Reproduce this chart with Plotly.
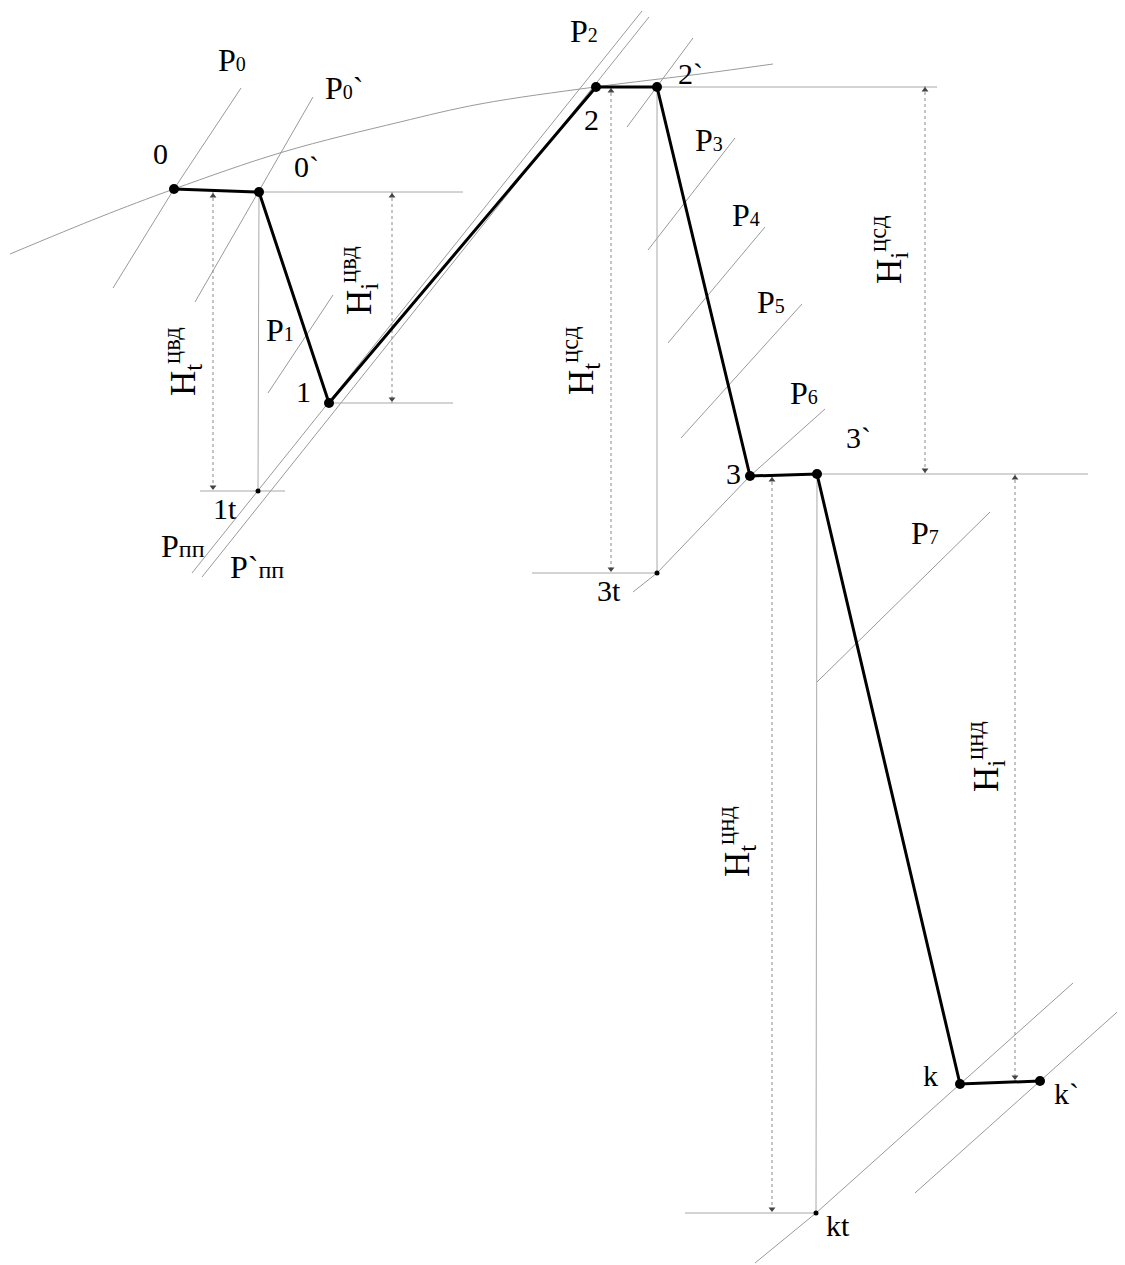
import plotly.graph_objects as go

# ---- data (drawing units: s to the right, h downward) ----
state_names = ["0", "0`", "1", "2", "2`", "3", "3`", "k", "k`"]
state_s = [174, 259, 329, 596, 657, 750, 817, 960, 1040]
state_h = [189, 192, 403, 87, 87, 476, 474, 1084, 1081]

ideal_names = ["1t", "3t", "kt"]
ideal_s = [258, 657, 816]
ideal_h = [491, 573, 1213]
ideal_from = [1, 4, 6]          # vertical isentrope starts at state 0`, 2`, 3`

sat_s = [10, 100, 174, 283, 400, 480, 595, 700, 773]
sat_h = [254, 217, 189, 152, 122, 104, 87, 74, 64]

isobar_names = ["P0", "P0`", "P1", "Pпп", "P`пп", "P2`", "P3", "P4", "P5",
                "P6", "P7", "Pk", "Pk`"]
isobar_s = [[241, 174, 113], [313, 195], [333, 268], [642, 192], [649, 202],
            [693, 627], [735, 648], [765, 668], [802, 681],
            [825, 750, 657, 633], [990, 817], [1073, 960, 816, 755], [1125, 915]]
isobar_h = [[88, 189, 288], [97, 302], [295, 393], [11, 573], [17, 577],
            [38, 127], [138, 250], [227, 343], [304, 438],
            [409, 476, 573, 592], [512, 682], [983, 1084, 1213, 1263], [1005, 1193]]

dim_names = ["Ht_cvd", "Hi_cvd", "Ht_csd", "Hi_csd", "Ht_cnd", "Hi_cnd"]
dim_s = [213, 392, 611, 925, 772, 1015]
dim_top = [192, 192, 87, 86, 476, 474]
dim_bot = [491, 403, 573, 474, 1213, 1081]

ext_h = [192, 403, 491, 87, 573, 474, 1213]
ext_s0 = [258, 329, 200, 657, 532, 817, 685]
ext_s1 = [463, 453, 285, 937, 657, 1088, 816]

GRAY = "#9a9a9a"
fig = go.Figure()

# saturation line
fig.add_trace(go.Scatter(x=sat_s, y=sat_h, mode="lines",
                         line=dict(color=GRAY, width=1, shape="spline"), hoverinfo="skip"))
# isobars
for nm, xs, ys in zip(isobar_names, isobar_s, isobar_h):
    fig.add_trace(go.Scatter(x=xs, y=ys, mode="lines", name=nm,
                             line=dict(color=GRAY, width=1), hoverinfo="skip"))
# horizontal extension lines
for yv, x0, x1 in zip(ext_h, ext_s0, ext_s1):
    fig.add_trace(go.Scatter(x=[x0, x1], y=[yv, yv], mode="lines",
                             line=dict(color="#a8a8a8", width=1), hoverinfo="skip"))
# vertical isentropes to ideal points
for i, j in enumerate(ideal_from):
    fig.add_trace(go.Scatter(x=[state_s[j], ideal_s[i]], y=[state_h[j], ideal_h[i]], mode="lines",
                             line=dict(color="#a8a8a8", width=1), hoverinfo="skip"))
# dimension lines with arrows
for xv, y0, y1 in zip(dim_s, dim_top, dim_bot):
    fig.add_trace(go.Scatter(x=[xv, xv], y=[y0, y1], mode="lines",
                             line=dict(color="#8a8a8a", width=1, dash="dot"), hoverinfo="skip"))
fig.add_trace(go.Scatter(x=dim_s, y=[t + 4 for t in dim_top], mode="markers",
                         marker=dict(symbol="triangle-up", size=6, color="#444"), hoverinfo="skip"))
fig.add_trace(go.Scatter(x=dim_s, y=[b - 4 for b in dim_bot], mode="markers",
                         marker=dict(symbol="triangle-down", size=6, color="#444"), hoverinfo="skip"))

# process line
fig.add_trace(go.Scatter(x=state_s, y=state_h, mode="lines+markers", text=state_names,
                         line=dict(color="black", width=3),
                         marker=dict(size=10, color="black"), hoverinfo="text"))
fig.add_trace(go.Scatter(x=ideal_s, y=ideal_h, mode="markers", text=ideal_names,
                         marker=dict(size=5, color="black"), hoverinfo="text"))

FONT = "Liberation Serif, Times New Roman, serif"


def P(sub, tick=""):
    return "P" + tick + "<span style='font-size:20px'>" + sub + "</span>"


plabels = [
    (P("0"), 232, 60), (P("0") + "`", 344, 88), (P("1"), 280, 330),
    ("P<span style='font-size:24px'>пп</span>", 183, 546),
    ("P`<span style='font-size:24px'>пп</span>", 257, 567),
    (P("2"), 584, 31), (P("3"), 709, 140), (P("4"), 746, 215), (P("5"), 771, 302),
    (P("6"), 804, 393), (P("7"), 925, 533),
]
for txt, x, y in plabels:
    fig.add_annotation(x=x, y=y, text=txt, showarrow=False, xanchor="center", yanchor="middle",
                       font=dict(family=FONT, size=32, color="black"))

labels = [
    ("0", 160, 153), ("0`", 306, 166), ("1", 303, 391), ("1t", 225, 508),
    ("2", 591, 119), ("2`", 690, 73), ("3", 733, 473), ("3`", 858, 437), ("3t", 609, 590),
    ("k", 930, 1075), ("k`", 1066, 1093), ("kt", 838, 1225),
]
for txt, x, y in labels:
    fig.add_annotation(x=x, y=y, text=txt, showarrow=False, xanchor="center", yanchor="middle",
                       font=dict(family=FONT, size=30, color="black"))

hlabels = [
    ("H<sub>t</sub><sup>цвд</sup>", 182, 362),
    ("H<sub>i</sub><sup>цвд</sup>", 358, 281),
    ("H<sub>t</sub><sup>цсд</sup>", 580, 361),
    ("H<sub>i</sub><sup>цсд</sup>", 888, 250),
    ("H<sub>t</sub><sup>цнд</sup>", 736, 842),
    ("H<sub>i</sub><sup>цнд</sup>", 985, 757),
]
for txt, x, y in hlabels:
    fig.add_annotation(x=x, y=y, text=txt, showarrow=False, textangle=-90,
                       xanchor="center", yanchor="middle",
                       font=dict(family=FONT, size=35, color="black"))

# page body has an 8px margin: size and ranges keep drawing units equal to page pixels
fig.update_layout(width=1117, height=1257, margin=dict(l=0, r=0, t=0, b=0),
                  paper_bgcolor="white", plot_bgcolor="white", showlegend=False,
                  xaxis=dict(range=[8, 1125], visible=False, fixedrange=True),
                  yaxis=dict(range=[1265, 8], visible=False, fixedrange=True))
fig.write_html("out.html")
